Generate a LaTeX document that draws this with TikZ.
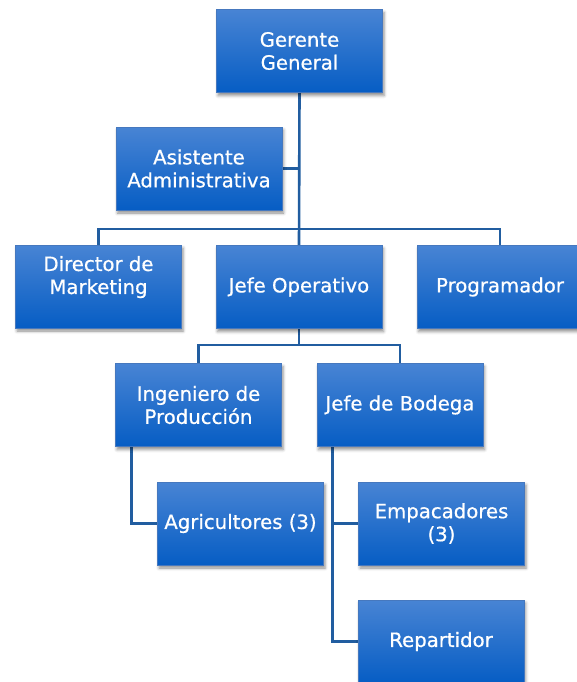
\documentclass[tikz,border=0pt]{standalone}
\usepackage{fontspec}
\setmainfont{DejaVu Sans}
\newfontfamily\boxfont{DejaVu Sans}[FakeBold=0.6]
\usetikzlibrary{shadows.blur,backgrounds}
\definecolor{boxtop}{RGB}{72,132,212}
\definecolor{boxbot}{RGB}{6,93,196}
\definecolor{boxedge}{RGB}{70,120,190}
\definecolor{conn}{RGB}{33,93,160}
\tikzset{
  orgbox/.style={rectangle, minimum width=166pt, minimum height=83pt,
    top color=boxtop, bottom color=boxbot, draw=boxedge, line width=0.5pt,
    text=white, font=\boxfont\fontsize{19.7}{23}\selectfont, align=center, inner sep=2pt,
    blur shadow={shadow xshift=1.5pt, shadow yshift=-3pt, shadow blur radius=3pt, shadow opacity=45}},
  link/.style={draw=conn, line width=2.6pt}
}
\begin{document}
\begin{tikzpicture}[x=1pt,y=1pt]
\useasboundingbox (0,0) rectangle (576,-682);
\node[orgbox] (gg) at (299.5,-51) {Gerente\\General};
\node[orgbox] (aa) at (199,-168.5) {Asistente\\Administrativa};
\node[orgbox] (dm) at (98.5,-286.5) {Director de\\Marketing\\~};
\node[orgbox] (jo) at (299,-287) {Jefe Operativo};
\node[orgbox] (pr) at (500,-287) {Programador};
\node[orgbox] (ip) at (198.5,-405) {Ingeniero de\\Producción};
\node[orgbox] (jb) at (400,-405) {Jefe de Bodega};
\node[orgbox] (ag) at (240.5,-523.5) {Agricultores (3)};
\node[orgbox] (em) at (441.5,-523.5) {Empacadores\\(3)};
\node[orgbox] (re) at (441,-641.5) {Repartidor};
\coordinate (busL) at (98.5,-229);
\coordinate (busR) at (500,-229);
\coordinate (bus2L) at (198.5,-345);
\coordinate (bus2R) at (400,-345);
\begin{pgfonlayer}{background}
\draw[link] (gg.south) -- (jo.north);
\draw[link] (aa.east) -- (aa.east -| gg.south);
\draw[link] (dm.north) -- (busL) -- (busR) -- (pr.north);
\draw[link] (jo.south) -- (jo.south |- bus2L);
\draw[link] (ip.north) -- (bus2L) -- (bus2R) -- (jb.north);
\draw[link] ([xshift=16pt]ip.south west) |- (ag.west);
\draw[link] ([xshift=16pt]jb.south west) |- (re.west);
\draw[link] ([xshift=16pt]jb.south west |- em.west) -- (em.west);
\end{pgfonlayer}
\end{tikzpicture}
\end{document}
